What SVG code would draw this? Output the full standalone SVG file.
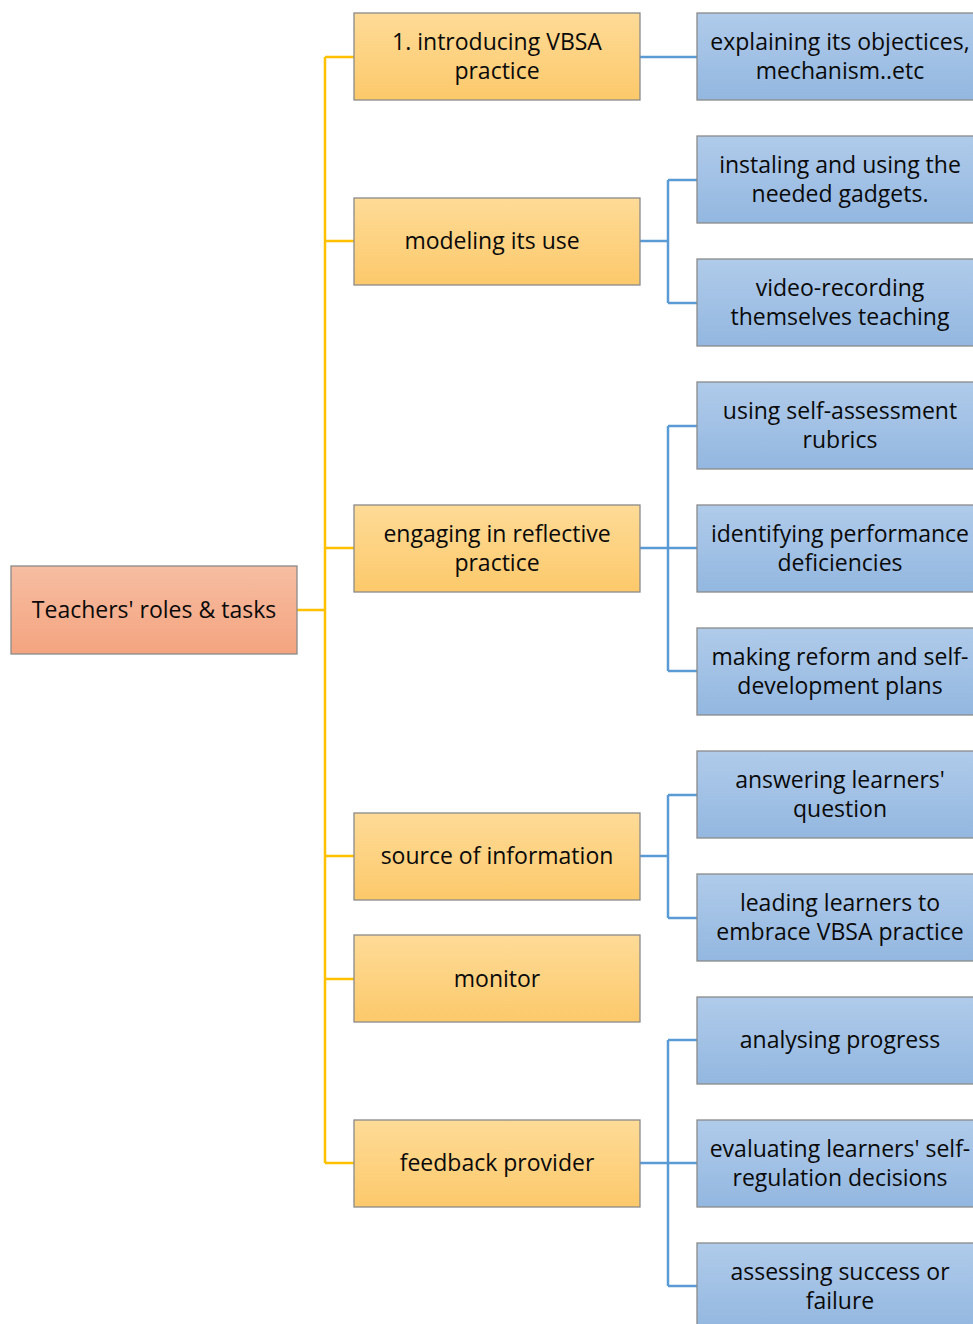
<svg xmlns="http://www.w3.org/2000/svg" width="973" height="1324" viewBox="0 0 973 1324">
  <defs>
    <linearGradient id="gRoot" x1="0" y1="0" x2="0" y2="1">
      <stop offset="0" stop-color="#f6bda2"/>
      <stop offset="1" stop-color="#f4a47f"/>
    </linearGradient>
    <linearGradient id="gRole" x1="0" y1="0" x2="0" y2="1">
      <stop offset="0" stop-color="#fedb97"/>
      <stop offset="1" stop-color="#fcc96b"/>
    </linearGradient>
    <linearGradient id="gTask" x1="0" y1="0" x2="0" y2="1">
      <stop offset="0" stop-color="#b0cbea"/>
      <stop offset="1" stop-color="#93b7e0"/>
    </linearGradient>
  </defs>
  <style>
    .box { stroke: #8a8a8a; stroke-width: 1.3; }
    .root { fill: url(#gRoot); }
    .role { fill: url(#gRole); }
    .task { fill: url(#gTask); }
    text { font-family: "Open Sans", "Liberation Sans", sans-serif; font-size: 23px; fill: #0a0a0a; text-anchor: middle; }
    .yl { fill: none; stroke: #ffc000; stroke-width: 2.5; }
    .bl { fill: none; stroke: #5b9bd5; stroke-width: 2.5; }
  </style>
  <rect width="973" height="1324" fill="#ffffff"/>

  <!-- connectors -->
  <g id="connectors">
    <path class="yl" d="M297 610 H325 M325 57 V1163 M325 57 H354 M325 241 H354 M325 548 H354 M325 856 H354 M325 979 H354 M325 1163 H354"/>
    <path class="bl" d="M640 57 H697"/>
    <path class="bl" d="M640 241 H668 M668 180 V303 M668 180 H697 M668 303 H697"/>
    <path class="bl" d="M640 548 H697 M668 426 V671 M668 426 H697 M668 671 H697"/>
    <path class="bl" d="M640 856 H668 M668 795 V918 M668 795 H697 M668 918 H697"/>
    <path class="bl" d="M640 1163 H697 M668 1040 V1286 M668 1040 H697 M668 1286 H697"/>
  </g>

  <!-- root -->
  <g id="root">
    <rect class="box root" x="11" y="566" width="286" height="88"/>
    <text x="154" y="618">Teachers' roles &amp; tasks</text>
  </g>

  <!-- roles -->
  <g id="role-introducing">
    <rect class="box role" x="354" y="13" width="286" height="87"/>
    <text x="497" y="50">1. introducing VBSA</text>
    <text x="497" y="79">practice</text>
  </g>
  <g id="role-modeling">
    <rect class="box role" x="354" y="198" width="286" height="87"/>
    <text x="492" y="249">modeling its use</text>
  </g>
  <g id="role-reflective">
    <rect class="box role" x="354" y="505" width="286" height="87"/>
    <text x="497" y="542">engaging in reflective</text>
    <text x="497" y="571">practice</text>
  </g>
  <g id="role-source">
    <rect class="box role" x="354" y="813" width="286" height="87"/>
    <text x="497" y="864">source of information</text>
  </g>
  <g id="role-monitor">
    <rect class="box role" x="354" y="935" width="286" height="87"/>
    <text x="497" y="987">monitor</text>
  </g>
  <g id="role-feedback">
    <rect class="box role" x="354" y="1120" width="286" height="87"/>
    <text x="497" y="1171">feedback provider</text>
  </g>

  <!-- tasks -->
  <g id="task-explaining">
    <rect class="box task" x="697" y="13" width="286" height="87"/>
    <text x="840" y="50">explaining its objectices,</text>
    <text x="840" y="79">mechanism..etc</text>
  </g>
  <g id="task-installing">
    <rect class="box task" x="697" y="136" width="286" height="87"/>
    <text x="840" y="173">instaling and using the</text>
    <text x="840" y="202">needed gadgets.</text>
  </g>
  <g id="task-video">
    <rect class="box task" x="697" y="259" width="286" height="87"/>
    <text x="840" y="296">video-recording</text>
    <text x="840" y="325">themselves teaching</text>
  </g>
  <g id="task-rubrics">
    <rect class="box task" x="697" y="382" width="286" height="87"/>
    <text x="840" y="419">using self-assessment</text>
    <text x="840" y="448">rubrics</text>
  </g>
  <g id="task-deficiencies">
    <rect class="box task" x="697" y="505" width="286" height="87"/>
    <text x="840" y="542">identifying performance</text>
    <text x="840" y="571">deficiencies</text>
  </g>
  <g id="task-plans">
    <rect class="box task" x="697" y="628" width="286" height="87"/>
    <text x="840" y="665">making reform and self-</text>
    <text x="840" y="694">development plans</text>
  </g>
  <g id="task-answering">
    <rect class="box task" x="697" y="751" width="286" height="87"/>
    <text x="840" y="788">answering learners'</text>
    <text x="840" y="817">question</text>
  </g>
  <g id="task-leading">
    <rect class="box task" x="697" y="874" width="286" height="87"/>
    <text x="840" y="911">leading learners to</text>
    <text x="840" y="940">embrace VBSA practice</text>
  </g>
  <g id="task-progress">
    <rect class="box task" x="697" y="997" width="286" height="87"/>
    <text x="840" y="1048">analysing progress</text>
  </g>
  <g id="task-evaluating">
    <rect class="box task" x="697" y="1120" width="286" height="87"/>
    <text x="840" y="1157">evaluating learners' self-</text>
    <text x="840" y="1186">regulation decisions</text>
  </g>
  <g id="task-assessing">
    <rect class="box task" x="697" y="1243" width="286" height="87"/>
    <text x="840" y="1280">assessing success or</text>
    <text x="840" y="1309">failure</text>
  </g>
</svg>
